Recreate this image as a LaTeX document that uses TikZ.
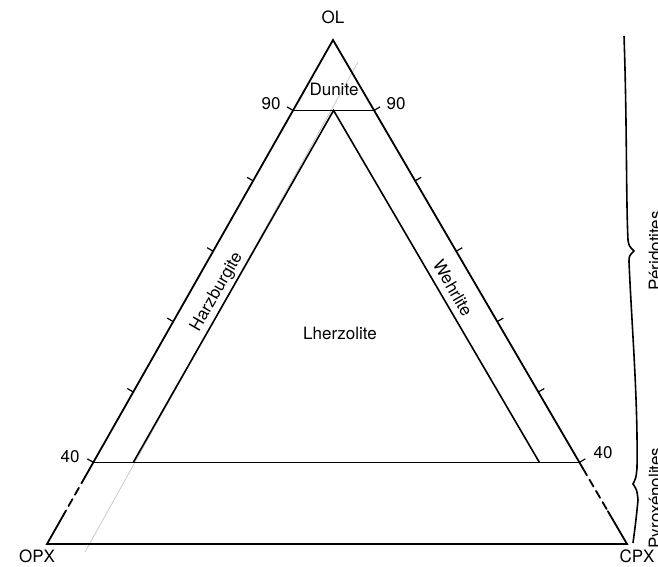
\documentclass[tikz,border=0pt]{standalone}
\usepackage{fontspec}
\setmainfont{TeX Gyre Heros}
\usetikzlibrary{calc}
\begin{document}
\begin{tikzpicture}[x=1pt,y=-1pt,
  side/.style={line width=1.8pt, line cap=round},
  inner/.style={line width=1.6pt},
  tickmark/.style={line width=1.2pt},
  lab/.style={font=\fontsize{17}{20}\selectfont, inner sep=0pt},
  pencil/.style={gray!45, line width=0.7pt},
  bracepath/.style={line width=1.6pt},
]
\fill[white] (0,0) rectangle (658,566);
\useasboundingbox (0,0) rectangle (658,566);

% corners
\coordinate (OLc) at (333,40);
\coordinate (OPXc) at (47,544);
\coordinate (CPXc) at (627,544);

% scale points
\coordinate (L90) at ($(OLc)!0.1397!(OPXc)$);
\coordinate (R90) at ($(OLc)!0.1397!(CPXc)$);
\coordinate (L40) at ($(OLc)!0.838!(OPXc)$);
\coordinate (R40) at ($(OLc)!0.838!(CPXc)$);
\coordinate (M90) at ($(L90)!0.5!(R90)$);
\coordinate (I1) at ($(L40)+(40,0)$);
\coordinate (I2) at ($(R40)+(-40,0)$);

% dashed break points
\coordinate (LA) at ($(OLc)!0.866!(OPXc)$);
\coordinate (LB) at ($(OLc)!0.94!(OPXc)$);
\coordinate (RA) at ($(OLc)!0.85!(CPXc)$);
\coordinate (RB) at ($(OLc)!0.935!(CPXc)$);

% pencil construction line
\coordinate (P1) at (358,62);
\coordinate (P2) at (85,552);
\draw[pencil] (P1) -- (P2);

% outer triangle
\draw[side] (LB) -- (OPXc) -- (CPXc) -- (RB);
\draw[side] (LA) -- (OLc) -- (RA);
\draw[side, dash pattern=on 8pt off 5pt] (LA) -- (LB);
\draw[side, dash pattern=on 8pt off 5pt] (RA) -- (RB);

% horizontal lines
\draw[inner] (L90) -- (R90);
\draw[inner] (L40) -- (R40);

% inner triangle
\draw[inner] (I1) -- (M90) -- (I2);

% ticks
\foreach \t in {0.1397,0.2794,0.4191,0.5587,0.6984,0.838}{
  \draw[tickmark] ($(OLc)!\t!(OPXc)$) -- ++(-6,-3.5);
  \draw[tickmark] ($(OLc)!\t!(CPXc)$) -- ++(6,-3.5);
}

% labels
\node[lab] (tOL) at (333,17) {OL};
\node[lab] (tOPX) at (37,556) {OPX};
\node[lab] (tCPX) at (637,556) {CPX};
\node[lab] (t90l) at (271,104) {90};
\node[lab] (t90r) at (396,104) {90};
\node[lab] (t40l) at (70,457) {40};
\node[lab] (t40r) at (603,453) {40};
\node[lab] (tDun) at (334,89) {Dunite};
\node[lab, rotate=60] (tHarz) at (217,292) {Harzburgite};
\node[lab, rotate=-60] (tWehr) at (453,288) {Wehrlite};
\node[lab] (tLher) at (340,333) {Lherzolite};
\node[lab, rotate=90, anchor=base] (tPer) at (661,251) {Péridotites};
\node[lab, rotate=90, anchor=base] (tPyr) at (661,498) {Pyroxénolites};

% brace
\coordinate (B0) at (624,36);
\coordinate (B1) at (628,240);
\coordinate (B2) at (634,251);
\coordinate (B3) at (629,262);
\coordinate (B4) at (637,468);
\coordinate (B5) at (633,484);
\coordinate (B6) at (638,500);
\coordinate (B7) at (633,543);
\draw[bracepath] (B0) .. controls (627,120) and (626,200) .. (B1)
  .. controls (629,246) .. (B2)
  .. controls (629,256) .. (B3)
  .. controls (632,330) and (638,400) .. (B4)
  .. controls (636,478) .. (B5)
  .. controls (637,490) .. (B6)
  .. controls (636,520) .. (B7);
\end{tikzpicture}
\end{document}
